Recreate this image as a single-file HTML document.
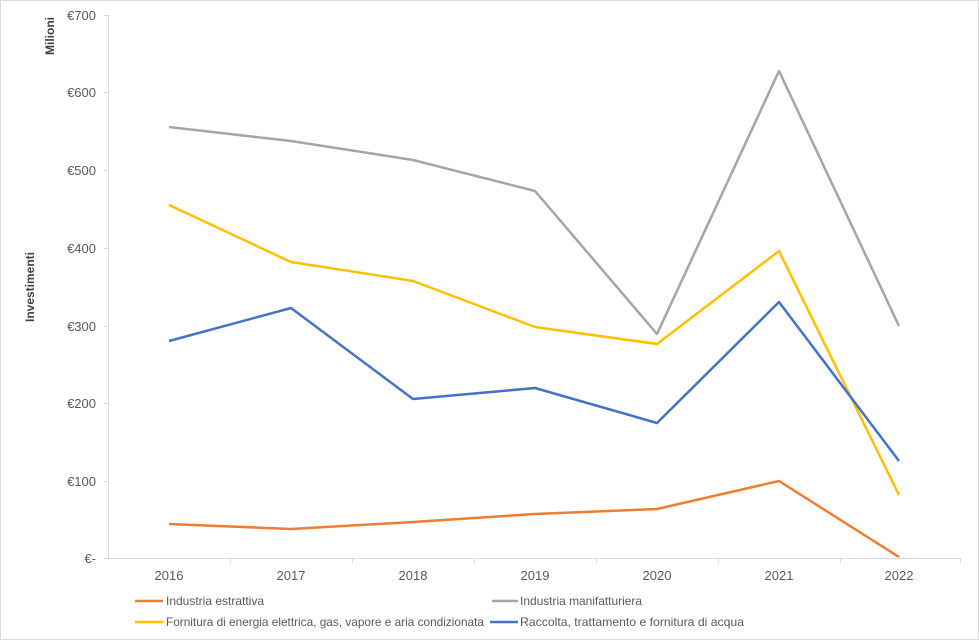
<!DOCTYPE html>
<html><head><meta charset="utf-8"><style>
body{margin:0;background:#fff}
svg{display:block;font-family:"Liberation Sans",Arial,sans-serif}
</style></head><body>
<svg width="979" height="640" viewBox="0 0 979 640">
<rect x="0.5" y="0.5" width="978" height="639" fill="#fff" stroke="#d9d9d9"/>
<g stroke="#d9d9d9" stroke-width="1">
<line x1="108.5" y1="15" x2="108.5" y2="558"/>
<line x1="108" y1="558.5" x2="960" y2="558.5"/>
<line x1="104" y1="15.5" x2="108" y2="15.5"/>
<line x1="104" y1="92.5" x2="108" y2="92.5"/>
<line x1="104" y1="170.5" x2="108" y2="170.5"/>
<line x1="104" y1="248.5" x2="108" y2="248.5"/>
<line x1="104" y1="326.5" x2="108" y2="326.5"/>
<line x1="104" y1="403.5" x2="108" y2="403.5"/>
<line x1="104" y1="481.5" x2="108" y2="481.5"/>
<line x1="104" y1="558.5" x2="108" y2="558.5"/>
<line x1="230.5" y1="558" x2="230.5" y2="563"/>
<line x1="352.5" y1="558" x2="352.5" y2="563"/>
<line x1="474.5" y1="558" x2="474.5" y2="563"/>
<line x1="596.5" y1="558" x2="596.5" y2="563"/>
<line x1="718.5" y1="558" x2="718.5" y2="563"/>
<line x1="840.5" y1="558" x2="840.5" y2="563"/>
<line x1="960.5" y1="558" x2="960.5" y2="563"/>
</g>
<g fill="#595959" font-size="13" text-anchor="end">
<text x="96" y="20">€700</text>
<text x="96" y="97">€600</text>
<text x="96" y="175">€500</text>
<text x="96" y="253">€400</text>
<text x="96" y="331">€300</text>
<text x="96" y="408">€200</text>
<text x="96" y="486">€100</text>
<text x="96" y="563">€-</text>
</g>
<g fill="#595959" font-size="13" text-anchor="middle">
<text x="169" y="580">2016</text><text x="291" y="580">2017</text><text x="413" y="580">2018</text>
<text x="535" y="580">2019</text><text x="657" y="580">2020</text><text x="779" y="580">2021</text><text x="899" y="580">2022</text>
</g>
<text transform="translate(54,36) rotate(-90)" text-anchor="middle" font-size="12" font-weight="bold" fill="#404040">Milioni</text>
<text transform="translate(34,287) rotate(-90)" text-anchor="middle" font-size="12" font-weight="bold" fill="#404040">Investimenti</text>
<g fill="none" stroke-width="2.5" stroke-linejoin="round">
<polyline stroke="#a5a5a5" points="169,127 291,141 413,160 535,191 657,334 779,71 899,326"/>
<polyline stroke="#ffc000" points="169,205 291,262 413,281 535,327 657,344 779,251 899,495"/>
<polyline stroke="#4472c4" points="169,341 291,308 413,399 535,388 657,423 779,302 899,461"/>
<polyline stroke="#ed7d31" points="169,524 291,529 413,522 535,514 657,509 779,481 899,557"/>
</g>
<g stroke-width="2.5">
<line x1="135" y1="601" x2="163" y2="601" stroke="#ed7d31"/>
<line x1="492" y1="601" x2="518" y2="601" stroke="#a5a5a5"/>
<line x1="135" y1="622" x2="163" y2="622" stroke="#ffc000"/>
<line x1="490" y1="622" x2="518" y2="622" stroke="#4472c4"/>
</g>
<g fill="#595959" font-size="12">
<text x="166" y="605" textLength="98" lengthAdjust="spacingAndGlyphs">Industria estrattiva</text>
<text x="520" y="605" textLength="122" lengthAdjust="spacingAndGlyphs">Industria manifatturiera</text>
<text x="166" y="626" textLength="318" lengthAdjust="spacingAndGlyphs">Fornitura di energia elettrica, gas, vapore e aria condizionata</text>
<text x="520" y="626" textLength="224" lengthAdjust="spacingAndGlyphs">Raccolta, trattamento e fornitura di acqua</text>
</g>
</svg>
</body></html>
